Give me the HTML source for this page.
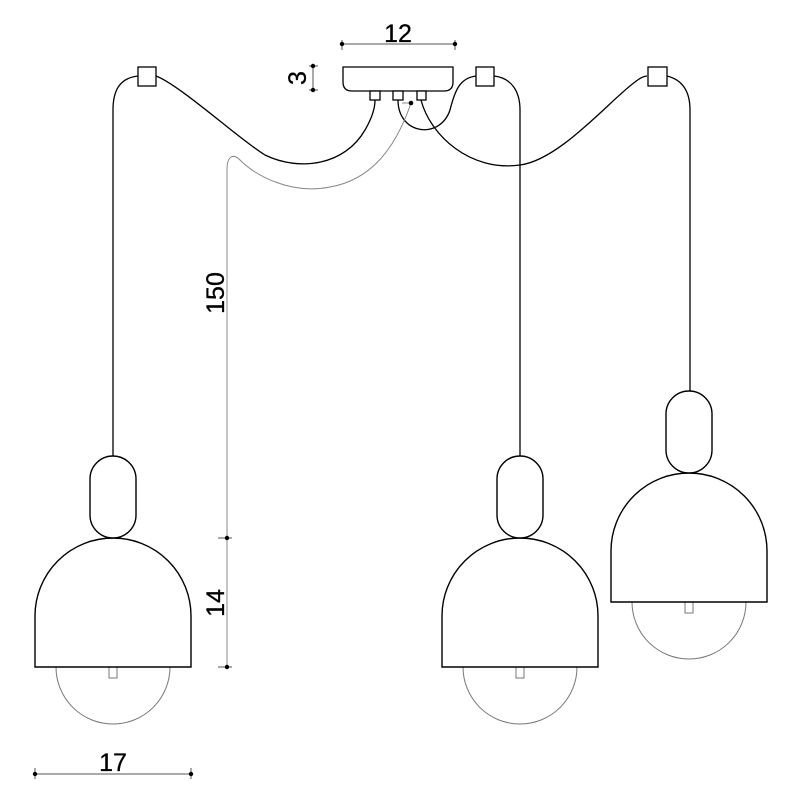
<!DOCTYPE html>
<html><head><style>body{margin:0;background:#fff}svg{display:block}</style></head>
<body>
<svg width="800" height="800" viewBox="0 0 800 800" xmlns="http://www.w3.org/2000/svg" font-family="Liberation Sans, sans-serif">
<defs>
<g id="lamp" fill="#fff" stroke="#000" stroke-width="1.4">
  <path d="M-57,211 A57,57 0 0 0 57,211" stroke="#777" stroke-width="1" fill="none"/>
  <rect x="-4" y="211" width="8" height="11" stroke="#777" stroke-width="1"/>
  <path d="M-78,211 L-78,160 A78,78 0 0 1 78,160 L78,211 Z"/>
  <rect x="-23" y="0" width="46" height="82" rx="23"/>
</g>
</defs>
<g fill="none" stroke="#000" stroke-width="1.3">
  <path d="M138,76 C120,78 113,90 113,110 L113,456"/>
  <path d="M156,76 C180,85 240,140 265,155 C300,172 345,165 365,130 C372,118 375,108 375,100"/>
  <path d="M398,100 C398,135 440,140 450,110 C455,90 460,78 476,76"/>
  <path d="M494,76 C512,78 520,92 520,110 L520,456"/>
  <path d="M421,100 C430,135 470,172 520,165 C560,160 610,100 635,82 C640,78 644,76 647,76"/>
  <path d="M667,76 C683,80 690,92 690,110 L690,391"/>
  <rect x="138" y="67" width="18" height="19" fill="#fff"/>
  <rect x="476" y="67" width="18" height="19" fill="#fff"/>
  <rect x="648" y="67" width="19" height="19" fill="#fff"/>
  <path d="M343,67 L453,67 L453,82 Q453,91 444,91 L352,91 Q343,91 343,82 Z" fill="#fff"/>
  <rect x="370" y="91" width="10" height="9" fill="#fff"/>
  <rect x="393" y="91" width="10" height="9" fill="#fff"/>
  <rect x="417" y="91" width="9" height="9" fill="#fff"/>
</g>
<g fill="none" stroke="#888" stroke-width="1">
  <path d="M411,103 C395,150 370,180 330,187 C290,195 255,175 240,160 C233,153 227,156 227,170 L227,667"/>
  <line x1="402" y1="103" x2="411" y2="103"/>
</g>
<circle cx="411" cy="103" r="2.3" fill="#000"/>
<use href="#lamp" x="113" y="456"/>
<use href="#lamp" x="520" y="456"/>
<use href="#lamp" x="689" y="391"/>
<g stroke="#555" stroke-width="1" fill="none">
  <line x1="342" y1="44" x2="455" y2="44"/><line x1="342" y1="40" x2="342" y2="50"/><line x1="455" y1="40" x2="455" y2="50"/>
  <line x1="313" y1="66" x2="313" y2="90"/><line x1="309" y1="66" x2="318" y2="66"/><line x1="309" y1="90" x2="318" y2="90"/>
  <line x1="218" y1="538" x2="232" y2="538"/><line x1="218" y1="667" x2="232" y2="667"/>
  <line x1="35" y1="774" x2="191" y2="774"/><line x1="35" y1="768" x2="35" y2="779"/><line x1="191" y1="768" x2="191" y2="779"/>
</g>
<g fill="#000">
  <circle cx="342" cy="44" r="2.2"/><circle cx="455" cy="44" r="2.2"/>
  <circle cx="313" cy="66" r="2.2"/><circle cx="313" cy="90" r="2.2"/>
  <circle cx="227" cy="538" r="2.2"/><circle cx="227" cy="667" r="2.2"/>
  <circle cx="35" cy="774" r="2.2"/><circle cx="191" cy="774" r="2.2"/>
</g>
<g font-size="25" fill="#000" text-anchor="middle" stroke="#000" stroke-width="0.3">
  <text x="398" y="42">12</text>
  <text x="113" y="771">17</text>
  <text transform="translate(306,78) rotate(-90)">3</text>
  <text transform="translate(224,293) rotate(-90)">150</text>
  <text transform="translate(224,603) rotate(-90)">14</text>
</g>
</svg>
</body></html>
